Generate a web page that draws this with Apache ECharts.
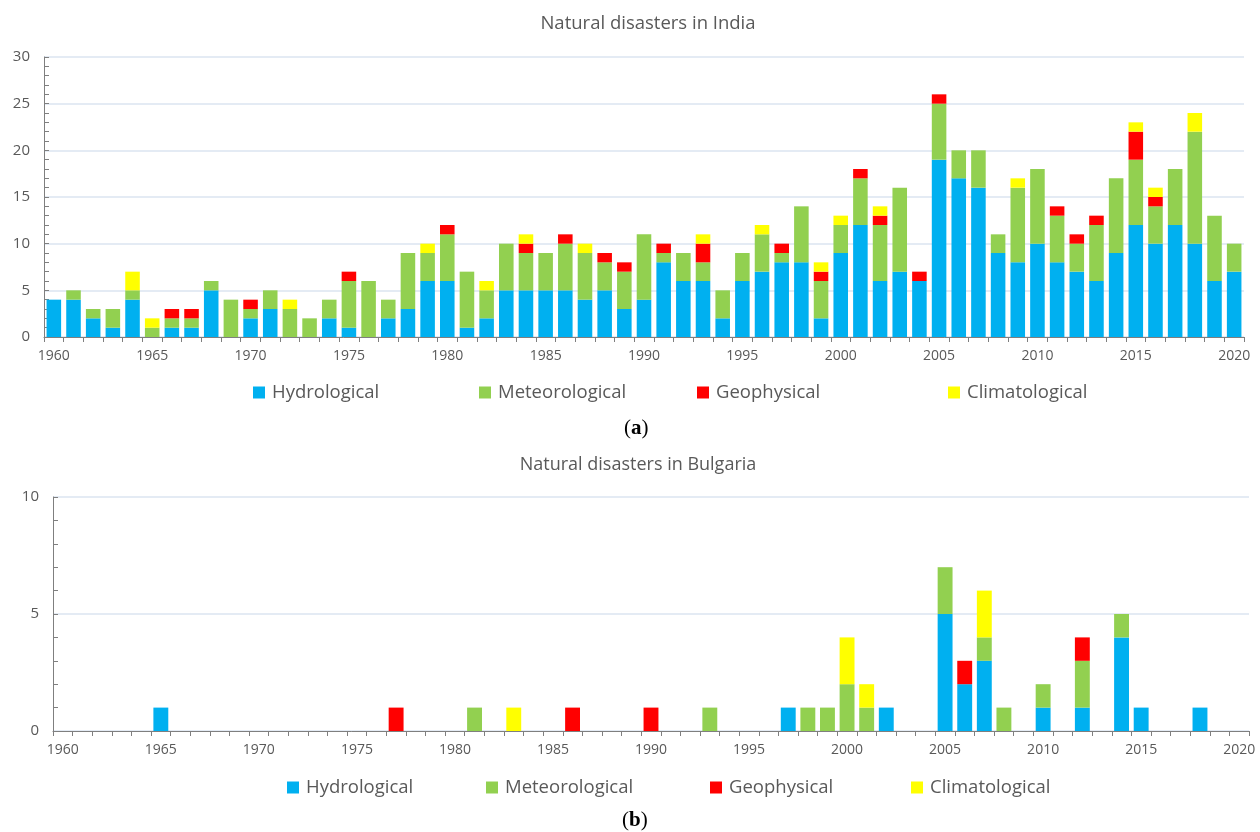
<!DOCTYPE html>
<html>
<head>
<meta charset="utf-8">
<script src="https://cdn.jsdelivr.net/npm/echarts@6/dist/echarts.min.js"></script>
<style>html,body{margin:0;padding:0;background:#fff}#c{width:1260px;height:832px}</style>
</head>
<body>
<div id="c"></div>
<script>
// ---- Data ----
const years = [];
for (let y = 1960; y <= 2020; y++) years.push(String(y));

const seriesNames = ['Hydrological', 'Meteorological', 'Geophysical', 'Climatological'];
const colors = ['#00B0F0', '#92D050', '#FF0000', '#FFFF00'];

// India, 1960..2020
const indiaHydro = [4,4,2,1,4,0,1,1,5,0, 2,3,0,0,2,1,0,2,3,6, 6,1,2,5,5,5,5,4,5,3, 4,8,6,6,2,6,7,8,8,2, 9,12,6,7,6,19,17,16,9,8, 10,8,7,6,9,12,10,12,10,6, 7];
const indiaMeteo = [0,1,1,2,1,1,1,1,1,4, 1,2,3,2,2,5,6,2,6,3, 5,6,3,5,4,4,5,5,3,4, 7,1,3,2,3,3,4,1,6,4, 3,5,6,9,0,6,3,4,2,8, 8,5,3,6,8,7,4,6,12,7, 3];
const indiaGeo = [0,0,0,0,0,0,1,1,0,0, 1,0,0,0,0,1,0,0,0,0, 1,0,0,0,1,0,1,0,1,1, 0,1,0,2,0,0,0,1,0,1, 0,1,1,0,1,1,0,0,0,0, 0,1,1,1,0,3,1,0,0,0, 0];
const indiaClim = [0,0,0,0,2,1,0,0,0,0, 0,0,1,0,0,0,0,0,0,1, 0,0,1,0,1,0,0,1,0,0, 0,0,0,1,0,0,1,0,0,1, 1,0,1,0,0,0,0,0,0,1, 0,0,0,0,0,1,1,0,2,0, 0];

// Bulgaria, 1960..2020
const bgHydro = [0,0,0,0,0,1,0,0,0,0, 0,0,0,0,0,0,0,0,0,0, 0,0,0,0,0,0,0,0,0,0, 0,0,0,0,0,0,0,1,0,0, 0,0,1,0,0,5,2,3,0,0, 1,0,1,0,4,1,0,0,1,0, 0];
const bgMeteo = [0,0,0,0,0,0,0,0,0,0, 0,0,0,0,0,0,0,0,0,0, 0,1,0,0,0,0,0,0,0,0, 0,0,0,1,0,0,0,0,1,1, 2,1,0,0,0,2,0,1,1,0, 1,0,2,0,1,0,0,0,0,0, 0];
const bgGeo = [0,0,0,0,0,0,0,0,0,0, 0,0,0,0,0,0,0,1,0,0, 0,0,0,0,0,0,1,0,0,0, 1,0,0,0,0,0,0,0,0,0, 0,0,0,0,0,0,1,0,0,0, 0,0,1,0,0,0,0,0,0,0, 0];
const bgClim = [0,0,0,0,0,0,0,0,0,0, 0,0,0,0,0,0,0,0,0,0, 0,0,0,1,0,0,0,0,0,0, 0,0,0,0,0,0,0,0,0,0, 2,1,0,0,0,0,0,2,0,0, 0,0,0,0,0,0,0,0,0,0, 0];

const indiaTicks = [0, 5, 10, 15, 20, 25, 30];
const bgTicks = [0, 5, 10];

const titleTop = 'Natural disasters in India';
const titleBottom = 'Natural disasters in Bulgaria';

// ---- Chart ----
const FONT = '"Open Sans", "Noto Sans", sans-serif';
const TXT = '#595959';
const AX = '#7f7f7f';
const GRIDC = '#dbe5f1';

function xAxis(gi) {
  return {
    type: 'category', gridIndex: gi, data: years, boundaryGap: true,
    axisLine: { lineStyle: { color: AX, width: 1 } },
    axisTick: { show: true, interval: 0, length: 5, lineStyle: { color: AX } },
    axisLabel: { interval: 4, color: TXT, fontSize: 14, fontFamily: FONT, margin: 12 },
    splitLine: { show: false }
  };
}
function yAxis(gi, ticks) {
  return {
    type: 'value', gridIndex: gi, min: ticks[0], max: ticks[ticks.length - 1], interval: 5,
    axisLine: { show: true, lineStyle: { color: AX, width: 1 } },
    axisTick: { show: true, inside: true, length: 5, lineStyle: { color: AX } },
    minorTick: { show: true, splitNumber: 5, length: 5, lineStyle: { color: AX } },
    axisLabel: { color: TXT, fontSize: 15, fontFamily: FONT, margin: 14 },
    splitLine: { show: true, lineStyle: { color: GRIDC, width: 1.5 } }
  };
}

const indiaData = [indiaHydro, indiaMeteo, indiaGeo, indiaClim];
const bgData = [bgHydro, bgMeteo, bgGeo, bgClim];
const series = [];
seriesNames.forEach((n, i) => {
  series.push({
    name: n, type: 'bar', stack: 'india', xAxisIndex: 0, yAxisIndex: 0,
    data: indiaData[i], barCategoryGap: '26%', itemStyle: { color: colors[i] },
    emphasis: { disabled: true }, animation: false
  });
});
seriesNames.forEach((n, i) => {
  series.push({
    name: n, type: 'bar', stack: 'bg', xAxisIndex: 1, yAxisIndex: 1,
    data: bgData[i], barCategoryGap: '24%', itemStyle: { color: colors[i] },
    emphasis: { disabled: true }, animation: false
  });
});

const topLegendX = [253, 479, 697, 948];
const botLegendX = [287, 486, 710, 911];
const legends = [];
seriesNames.forEach((n, i) => {
  legends.push({
    data: [n], left: topLegendX[i], top: 383, padding: 0, itemGap: 0,
    itemWidth: 12, itemHeight: 12, icon: 'rect', selectedMode: false,
    textStyle: { color: TXT, fontSize: 18.5, fontFamily: FONT, padding: [0, 0, 0, 2] }
  });
  legends.push({
    data: [n], left: botLegendX[i], top: 778, padding: 0, itemGap: 0,
    itemWidth: 12, itemHeight: 12, icon: 'rect', selectedMode: false,
    textStyle: { color: TXT, fontSize: 18.5, fontFamily: FONT, padding: [0, 0, 0, 2] }
  });
});

const chart = echarts.init(document.getElementById('c'), null, { renderer: 'canvas' });
chart.setOption({
  backgroundColor: '#fff',
  animation: false,
  title: [
    { text: titleTop, left: 643, top: 9, textAlign: 'center', textStyle: { color: TXT, fontSize: 18.5, fontWeight: 'normal', fontFamily: FONT } },
    { text: titleBottom, left: 633, top: 451, textAlign: 'center', textStyle: { color: TXT, fontSize: 18, fontWeight: 'normal', fontFamily: FONT } }
  ],
  grid: [
    { left: 44, right: 16, top: 57, height: 280, containLabel: false },
    { left: 53, right: 11, top: 497, height: 234, containLabel: false }
  ],
  xAxis: [xAxis(0), xAxis(1)],
  yAxis: [yAxis(0, indiaTicks), yAxis(1, bgTicks)],
  legend: legends,
  graphic: [
    { type: 'text', left: 624, top: 418, style: { text: '({a|a})', rich: { a: { fontWeight: 'bold', fontSize: 21, fontFamily: '"Liberation Serif", "DejaVu Serif", serif', fill: '#000' } }, fontSize: 21, fontFamily: '"Liberation Serif", "DejaVu Serif", serif', fill: '#000' } },
    { type: 'text', left: 622, top: 810, style: { text: '({b|b})', rich: { b: { fontWeight: 'bold', fontSize: 21, fontFamily: '"Liberation Serif", "DejaVu Serif", serif', fill: '#000' } }, fontSize: 21, fontFamily: '"Liberation Serif", "DejaVu Serif", serif', fill: '#000' } }
  ],
  series: series
});
</script>
</body>
</html>
